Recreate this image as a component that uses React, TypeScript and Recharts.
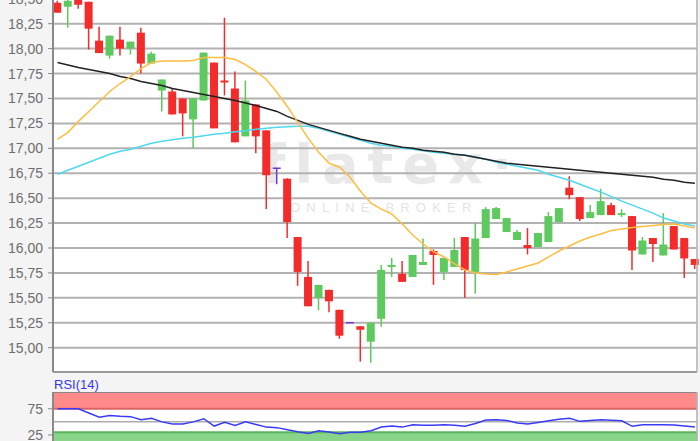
import { ComposedChart, Bar, Line, XAxis, YAxis, CartesianGrid, ReferenceArea, ReferenceLine } from "recharts";

// daily candles, oldest first
const opens = [18.46, 18.42, 18.49, 18.47, 18.08, 17.93, 18.09, 18.0, 18.16, 17.85, 17.58, 17.57, 17.5, 17.29, 17.48, 17.86, 17.68, 17.6, 17.12, 17.44, 17.18, 16.8, 16.695, 16.11, 15.71, 15.5, 15.58, 15.38, 15.25, 15.215, 15.06, 15.29, 15.81, 15.74, 15.71, 15.83, 15.97, 15.76, 15.81, 16.11, 15.76, 16.1, 16.29, 16.16, 16.08, 16.03, 16.01, 16.06, 16.26, 16.605, 16.51, 16.3, 16.33, 16.43, 16.33, 16.32, 15.935, 16.1, 15.925, 16.22, 16.1, 15.89];
const highs = [18.48, 18.49, 18.5, 18.47, 18.22, 18.13, 18.22, 18.07, 18.21, 17.97, 17.69, 17.6, 17.5, 17.5, 17.96, 17.86, 18.31, 17.77, 17.68, 17.44, 17.18, 16.8, 16.7, 16.11, 15.87, 15.63, 15.58, 15.38, 15.25, 15.215, 15.25, 15.83, 15.9, 15.87, 15.93, 16.095, 15.985, 15.9, 16.1, 16.11, 16.25, 16.41, 16.41, 16.3, 16.18, 16.2, 16.15, 16.36, 16.4, 16.72, 16.51, 16.43, 16.595, 16.455, 16.39, 16.32, 16.11, 16.1, 16.35, 16.22, 16.1, 15.89];
const lows = [18.36, 18.21, 18.4, 17.99, 17.955, 17.9, 17.93, 17.94, 17.75, 17.85, 17.37, 17.34, 17.12, 17.0, 17.48, 17.2, 17.53, 17.06, 17.12, 16.95, 16.39, 16.64, 16.1, 15.62, 15.415, 15.375, 15.355, 15.09, 15.25, 14.86, 14.85, 15.21, 15.71, 15.66, 15.71, 15.83, 15.63, 15.68, 15.81, 15.5, 15.54, 16.1, 16.29, 16.16, 16.08, 15.935, 16.01, 16.06, 16.26, 16.49, 16.27, 16.3, 16.33, 16.33, 16.31, 15.78, 15.935, 15.86, 15.925, 15.985, 15.7, 15.79];
const closes = [18.36, 18.48, 18.44, 18.2, 17.955, 18.13, 18.0, 18.07, 17.85, 17.95, 17.69, 17.34, 17.35, 17.5, 17.96, 17.2, 17.66, 17.06, 17.48, 17.12, 16.73, 16.8, 16.26, 15.76, 15.415, 15.63, 15.465, 15.12, 15.25, 15.18, 15.25, 15.78, 15.83, 15.66, 15.93, 15.86, 15.93, 15.9, 15.98, 15.78, 16.095, 16.39, 16.4, 16.3, 16.16, 16.0, 16.15, 16.32, 16.4, 16.53, 16.29, 16.36, 16.47, 16.33, 16.35, 15.975, 16.075, 16.04, 16.035, 15.985, 15.895, 15.83];

// moving averages
const maLong = [17.86, 17.836, 17.81, 17.79, 17.77, 17.75, 17.72, 17.7, 17.67, 17.65, 17.63, 17.6, 17.58, 17.56, 17.54, 17.52, 17.5, 17.48, 17.455, 17.43, 17.4, 17.37, 17.32, 17.28, 17.24, 17.21, 17.18, 17.15, 17.12, 17.09, 17.07, 17.05, 17.03, 17.01, 17.0, 16.98, 16.97, 16.96, 16.94, 16.93, 16.91, 16.89, 16.87, 16.85, 16.84, 16.83, 16.82, 16.81, 16.8, 16.79, 16.78, 16.77, 16.76, 16.75, 16.74, 16.73, 16.72, 16.71, 16.69, 16.68, 16.66, 16.65];
const maMid = [16.74, 16.78, 16.82, 16.86, 16.9, 16.94, 16.97, 16.99, 17.02, 17.05, 17.07, 17.085, 17.1, 17.11, 17.125, 17.14, 17.15, 17.165, 17.175, 17.19, 17.2, 17.21, 17.215, 17.22, 17.22, 17.2, 17.17, 17.14, 17.11, 17.08, 17.05, 17.03, 17.02, 17.0, 16.99, 16.975, 16.96, 16.95, 16.94, 16.93, 16.91, 16.89, 16.86, 16.84, 16.82, 16.8, 16.78, 16.74, 16.71, 16.68, 16.64, 16.6, 16.56, 16.515, 16.47, 16.43, 16.39, 16.35, 16.3, 16.27, 16.24, 16.22];
const maShort = [17.09, 17.16, 17.27, 17.37, 17.47, 17.57, 17.65, 17.72, 17.8, 17.86, 17.875, 17.875, 17.875, 17.88, 17.91, 17.91, 17.91, 17.89, 17.84, 17.77, 17.69, 17.56, 17.42, 17.26, 17.1, 16.96, 16.85, 16.81, 16.71, 16.57, 16.45, 16.39, 16.34, 16.24, 16.13, 16.04, 15.96, 15.91, 15.84, 15.78, 15.75, 15.74, 15.735, 15.76, 15.79, 15.82, 15.85, 15.91, 15.97, 16.02, 16.07, 16.11, 16.14, 16.175, 16.19, 16.205, 16.215, 16.225, 16.235, 16.24, 16.22, 16.2];

const rsi = [75, 75, 75, 67, 59, 62, 60.5, 60, 54, 57, 50, 46, 46, 50, 56, 42, 49, 43, 50, 45, 40, 39, 35, 31, 28, 33, 30.5, 27.5, 30, 30, 33, 40, 42, 40, 44.5, 43.5, 43.5, 44.5, 43.5, 41.5, 47, 53.5, 54, 52.5, 48, 46, 49, 52, 55, 57, 51, 52.5, 54, 53, 52, 41.5, 44.5, 44.5, 44.5, 44, 42, 40];

const priceTicks = [15, 15.25, 15.5, 15.75, 16, 16.25, 16.5, 16.75, 17, 17.25, 17.5, 17.75, 18, 18.25, 18.5];
const rsiTicks = [25, 75];

const rows = opens.map((o, i) => ({
  i,
  o,
  h: highs[i],
  l: lows[i],
  c: closes[i],
  range: [lows[i], highs[i]],
  maLong: maLong[i],
  maMid: maMid[i],
  maShort: maShort[i],
  rsi: rsi[i],
}));

const font = "'Liberation Sans', Arial, sans-serif";
const fmt = (v: number) => v.toFixed(2).replace(".", ",");

function Candle(props: any) {
  const { x, y, width, height, payload } = props;
  const { o, h, l, c } = payload;
  const color = o === c ? "#6a3cd4" : c > o ? "#5ec95e" : "#f42b2b";
  const top = Math.min(y, y + height);
  const hgt = Math.abs(height);
  const span = h - l;
  const toY = (v: number) => (span === 0 ? top : top + ((h - v) / span) * hgt);
  const cx = x + width / 2;
  const bTop = toY(Math.max(o, c));
  const bBot = toY(Math.min(o, c));
  return (
    <g>
      {span > 0 && <line x1={cx} x2={cx} y1={top} y2={top + hgt} stroke={color} strokeWidth={1.5} />}
      {o === c ? (
        <line x1={x} x2={x + width} y1={bTop} y2={bTop} stroke={color} strokeWidth={1.5} />
      ) : (
        <rect x={x} y={bTop} width={width} height={Math.max(bBot - bTop, 1.5)} fill={color} />
      )}
    </g>
  );
}

const xDomain = [-0.43, 61.2];
const tickStyle = { fontSize: 14, fill: "#6e6e6e", fontFamily: font };

export default function App() {
  return (
    <div style={{ position: "fixed", left: 0, top: 0, width: 700, height: 441, overflow: "hidden", background: "#f4f4f4" }}>
      <div style={{ position: "absolute", left: 53, top: 0, width: 644, height: 372, background: "#fff" }} />
      <div style={{ position: "absolute", left: 53, top: 392, width: 644, height: 49, background: "#fff" }} />
      <svg width={700} height={441} style={{ position: "absolute", left: 0, top: 0 }}>
        <text x={262} y={183} fontFamily="'DejaVu Sans', sans-serif" fontWeight="bold" fontSize={54} letterSpacing={9} fill="#e9e9e9">
          flatex·
        </text>
        <text x={290} y={212} fontFamily={font} fontSize={13} letterSpacing={6.2} fill="#e4e4e4">
          ONLINE BROKER
        </text>
      </svg>

      <div style={{ position: "absolute", left: 0, top: -10 }}>
        <ComposedChart width={700} height={384} data={rows} margin={{ top: 0, right: 0, bottom: 0, left: 0 }}>
          <CartesianGrid vertical={false} stroke="#b2b2b2" strokeWidth={2} />
          <XAxis type="number" dataKey="i" domain={xDomain} height={2} tick={false} tickLine={false} axisLine={{ stroke: "#9a9a9a", strokeWidth: 2 }} />
          <YAxis
            domain={[14.756, 18.588]}
            ticks={priceTicks}
            width={53}
            tickFormatter={fmt}
            tick={tickStyle}
            tickSize={5}
            tickMargin={5}
            tickLine={{ stroke: "#888" }}
            axisLine={{ stroke: "#8a8a8a", strokeWidth: 2 }}
            allowDataOverflow
          />
          <YAxis yAxisId="r" orientation="right" width={3} domain={[0, 1]} tick={false} tickLine={false} axisLine={{ stroke: "#b0b0b0", strokeWidth: 1.5 }} />
          <Bar dataKey="range" barSize={8} shape={<Candle />} isAnimationActive={false} />
          <Line dataKey="maMid" stroke="#4fd8f0" strokeWidth={1.5} dot={false} isAnimationActive={false} />
          <Line dataKey="maLong" stroke="#222" strokeWidth={1.5} dot={false} isAnimationActive={false} />
          <Line dataKey="maShort" stroke="#ffbd40" strokeWidth={1.5} dot={false} isAnimationActive={false} />
        </ComposedChart>
      </div>

      <div style={{ position: "absolute", left: 54, top: 377, fontFamily: font, fontSize: 13, color: "#3535f0" }}>RSI(14)</div>

      <div style={{ position: "absolute", left: 0, top: 392 }}>
        <ComposedChart width={700} height={60} data={rows} margin={{ top: 0, right: 0, bottom: 0, left: 0 }}>
          <XAxis type="number" dataKey="i" domain={xDomain} hide />
          <YAxis
            domain={[-7.5, 107]}
            ticks={rsiTicks}
            width={53}
            tick={tickStyle}
            tickSize={5}
            tickMargin={5}
            tickLine={{ stroke: "#888" }}
            axisLine={{ stroke: "#8a8a8a", strokeWidth: 2 }}
            allowDataOverflow
          />
          <YAxis yAxisId="r" orientation="right" width={3} domain={[0, 1]} tick={false} tickLine={false} axisLine={{ stroke: "#b0b0b0", strokeWidth: 1.5 }} />
          <ReferenceArea y1={75} y2={107} fill="#ff8a8a" fillOpacity={1} strokeOpacity={0} />
          <ReferenceArea y1={-7.5} y2={30} fill="#88d488" fillOpacity={1} strokeOpacity={0} />
          <ReferenceLine y={75} stroke="#d86464" strokeWidth={2} />
          <ReferenceLine y={30} stroke="#5cb45c" strokeWidth={2} />
          <ReferenceLine y={50} stroke="#adadad" strokeWidth={1.5} />
          <ReferenceLine y={107} stroke="#888" strokeWidth={2} />
          <Line dataKey="rsi" stroke="#3a3af5" strokeWidth={1.5} dot={false} isAnimationActive={false} />
        </ComposedChart>
      </div>
    </div>
  );
}
